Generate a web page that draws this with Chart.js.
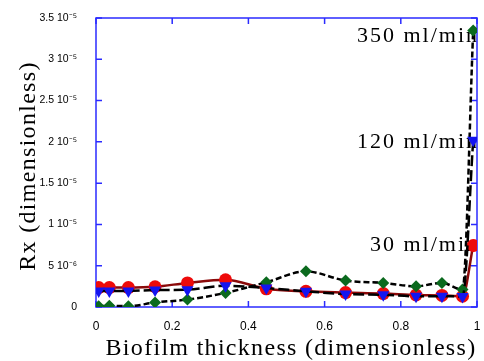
<!DOCTYPE html>
<html>
<head>
<meta charset="utf-8">
<script src="https://cdn.jsdelivr.net/npm/chart.js@4"></script>
<style>
  html, body { margin: 0; padding: 0; background: #fff; }
</style>
</head>
<body>
<canvas id="rxChart" width="484" height="361"></canvas>
<script>
// biofilm thickness (dimensionless) of the sampled points
var thickness = [0.007, 0.035, 0.085, 0.155, 0.24, 0.34, 0.447, 0.551, 0.655, 0.754, 0.84, 0.908, 0.962, 0.99];

// Rx at each flow rate
var rx30 = [2.35e-6, 2.35e-6, 2.35e-6, 2.45e-6, 2.92e-6, 3.3e-6, 2.2e-6, 1.9e-6, 1.75e-6, 1.63e-6, 1.45e-6, 1.4e-6, 1.3e-6, 7.45e-6];
var rx120 = [1.95e-6, 1.95e-6, 1.95e-6, 2.05e-6, 2.1e-6, 2.57e-6, 2.29e-6, 1.9e-6, 1.57e-6, 1.48e-6, 1.3e-6, 1.3e-6, 1.28e-6, 2.02e-5];
var rx350 = [0.1e-6, 0.15e-6, 0.1e-6, 0.55e-6, 0.9e-6, 1.71e-6, 2.99e-6, 4.32e-6, 3.2e-6, 2.92e-6, 2.51e-6, 2.92e-6, 2.11e-6, 3.35e-5];

var flowLabels = ['30 ml/min', '120 ml/min', '350 ml/min'];
var xTickLabels = ['0', '0.2', '0.4', '0.6', '0.8', '1'];
var yTickLabels = ['0', '5 10⁻⁶', '1 10⁻⁵', '1.5 10⁻⁵', '2 10⁻⁵', '2.5 10⁻⁵', '3 10⁻⁵', '3.5 10⁻⁵'];

var serif = '"Liberation Serif", "Times New Roman", serif';
var sans = '"Liberation Sans", Arial, sans-serif';

// where each flow-rate tag sits (baseline, in Rx units)
var flowTags = [
    { text: flowLabels[0], y: 6.73e-6 },
    { text: flowLabels[1], y: 1.925e-5 },
    { text: flowLabels[2], y: 3.21e-5 }
];

function points(ys) {
    return thickness.map(function (x, i) { return { x: x, y: ys[i] }; });
}

// blue box with inward ticks, the flow tags and the axis titles
var framePlugin = {
    id: 'frame',
    beforeDatasetsDraw: function (chart) {
        var ctx = chart.ctx, a = chart.chartArea;
        var xs = chart.scales.x, ys = chart.scales.y;
        ctx.save();

        ctx.fillStyle = '#000';
        ctx.font = '22px ' + serif;
        ctx.letterSpacing = '2px';
        ctx.textAlign = 'right';
        ctx.textBaseline = 'alphabetic';
        flowTags.forEach(function (t) {
            ctx.fillText(t.text, xs.getPixelForValue(1) + 2, ys.getPixelForValue(t.y));
        });

        ctx.strokeStyle = '#2b2bff';
        ctx.lineWidth = 1.5;
        ctx.strokeRect(a.left, a.top, a.right - a.left, a.bottom - a.top);
        ctx.beginPath();
        xs.ticks.forEach(function (t) {
            var px = xs.getPixelForValue(t.value);
            ctx.moveTo(px, a.bottom); ctx.lineTo(px, a.bottom - 6);
            ctx.moveTo(px, a.top); ctx.lineTo(px, a.top + 6);
        });
        ys.ticks.forEach(function (t) {
            var py = ys.getPixelForValue(t.value);
            ctx.moveTo(a.left, py); ctx.lineTo(a.left + 6, py);
            ctx.moveTo(a.right, py); ctx.lineTo(a.right - 6, py);
        });
        ctx.stroke();

        ctx.font = '24px ' + serif;
        ctx.letterSpacing = '1.3px';
        ctx.textAlign = 'center';
        ctx.fillText('Biofilm thickness (dimensionless)', 291, 355);
        ctx.translate(35, 166);
        ctx.rotate(-Math.PI / 2);
        ctx.fillText('Rx (dimensionless)', 0, 0);

        ctx.restore();
    }
};

var rxChart = new Chart(document.getElementById('rxChart'), {
    type: 'line',
    data: {
        datasets: [{
            label: flowLabels[1],
            data: points(rx120),
            borderColor: '#000000',
            borderWidth: 2.5,
            borderDash: [11, 4],
            pointStyle: 'triangle',
            rotation: 180,
            pointRadius: 7,
            pointBorderWidth: 0,
            pointBackgroundColor: '#1414f0',
            cubicInterpolationMode: 'monotone',
            order: 0
        }, {
            label: flowLabels[2],
            data: points(rx350),
            borderColor: '#000000',
            borderWidth: 2.5,
            borderDash: [6, 3],
            pointStyle: 'rectRot',
            pointRadius: 6,
            pointBorderWidth: 0,
            pointBackgroundColor: '#0b6a1e',
            cubicInterpolationMode: 'monotone',
            order: 1
        }, {
            label: flowLabels[0],
            data: points(rx30),
            borderColor: '#8b0a0a',
            borderWidth: 2.5,
            pointStyle: 'circle',
            pointRadius: 6.5,
            pointBorderWidth: 0,
            pointBackgroundColor: '#ee0a0a',
            cubicInterpolationMode: 'monotone',
            order: 2
        }]
    },
    options: {
        responsive: false,
        animation: false,
        devicePixelRatio: 1,
        layout: { padding: { top: 18, right: 4, left: 0, bottom: 0 } },
        plugins: {
            legend: { display: false },
            tooltip: { enabled: false }
        },
        scales: {
            x: {
                type: 'linear',
                min: 0,
                max: 1,
                grid: { display: false },
                border: { display: false },
                ticks: {
                    stepSize: 0.2,
                    padding: 4,
                    maxRotation: 0,
                    color: '#000',
                    font: { family: sans, size: 12 },
                    callback: function (v, i) { return xTickLabels[i]; }
                },
                afterFit: function (s) {
                    s.height = 54;
                    s.paddingLeft = 0;
                    s.paddingRight = 0;
                }
            },
            y: {
                min: 0,
                max: 3.5e-5,
                grid: { display: false },
                border: { display: false },
                ticks: {
                    stepSize: 5e-6,
                    padding: 11,
                    color: '#000',
                    font: { family: sans, size: 10.5 },
                    callback: function (v, i) { return yTickLabels[i]; }
                },
                afterFit: function (s) {
                    s.width = 96;
                    s.paddingTop = 0;
                    s.paddingBottom = 0;
                }
            }
        }
    },
    plugins: [framePlugin]
});
</script>
</body>
</html>
